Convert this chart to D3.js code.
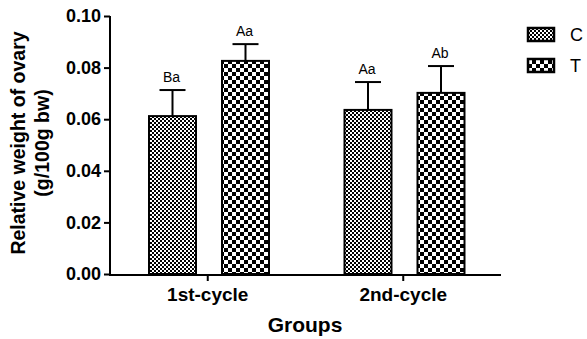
<!DOCTYPE html>
<html><head><meta charset="utf-8">
<script src="https://cdn.jsdelivr.net/npm/d3@7"></script>
<style>body{margin:0;background:#fff}svg{display:block}text{font-family:"Liberation Sans",Arial,sans-serif}</style>
</head><body><svg id="c" width="587" height="339"></svg>
<script>
const groups = ["1st-cycle", "2nd-cycle"];
const seriesNames = ["C", "T"];
const meanC = [0.0612, 0.0636];
const meanT = [0.0826, 0.0702];
const errC = [0.0101, 0.0108];
const errT = [0.0065, 0.0104];
const lettersC = ["Ba", "Aa"];
const lettersT = ["Aa", "Ab"];
const yTicks = [0, 0.02, 0.04, 0.06, 0.08, 0.10];

const svg = d3.select("#c");
const defs = svg.append("defs");
const pC = defs.append("pattern").attr("id","patC").attr("patternUnits","userSpaceOnUse").attr("width",4).attr("height",4);
pC.append("rect").attr("width",4).attr("height",4).attr("fill","#fff");
pC.append("rect").attr("width",2).attr("height",2).attr("fill","#000");
pC.append("rect").attr("x",2).attr("y",2).attr("width",2).attr("height",2).attr("fill","#000");
const pT = defs.append("pattern").attr("id","patT").attr("patternUnits","userSpaceOnUse").attr("width",8).attr("height",8);
pT.append("rect").attr("width",8).attr("height",8).attr("fill","#fff");
pT.append("rect").attr("width",4).attr("height",4).attr("fill","#000");
pT.append("rect").attr("x",4).attr("y",4).attr("width",4).attr("height",4).attr("fill","#000");
const fills = {C:"url(#patC)", T:"url(#patT)"};

const y = d3.scaleLinear().domain([0,0.1]).range([274,16]);
const x0 = d3.scaleBand().domain(groups).range([110,501]).padding(0);
const x1 = d3.scaleBand().domain(seriesNames).range([38,160]).paddingInner(24/73).paddingOuter(0);

const data = [];
groups.forEach((g,i)=>{
  data.push({g, s:"C", v:meanC[i], e:errC[i], l:lettersC[i]});
  data.push({g, s:"T", v:meanT[i], e:errT[i], l:lettersT[i]});
});

const eb = svg.append("g");
data.forEach(d=>{
  const cx = x0(d.g) + x1(d.s) + x1.bandwidth()/2;
  eb.append("line").attr("x1",cx).attr("x2",cx).attr("y1",y(d.v)).attr("y2",y(d.v+d.e)).attr("stroke","#000").attr("stroke-width",2);
  eb.append("line").attr("x1",cx-13).attr("x2",cx+13).attr("y1",y(d.v+d.e)).attr("y2",y(d.v+d.e)).attr("stroke","#000").attr("stroke-width",2);
  svg.append("text").attr("x",cx-1).attr("y",y(d.v+d.e)-8).attr("text-anchor","middle")
    .attr("font-size",14).text(d.l);
});

svg.append("g").selectAll("rect").data(data).join("rect")
  .attr("x",d=>x0(d.g)+x1(d.s)+1)
  .attr("y",d=>y(d.v))
  .attr("width",x1.bandwidth()-2)
  .attr("height",d=>y(0)-y(d.v))
  .attr("fill",d=>fills[d.s]).attr("stroke","#000").attr("stroke-width",2);

const ya = svg.append("g").attr("transform","translate(110,0)")
  .call(d3.axisLeft(y).tickValues(yTicks).tickFormat(d3.format(".2f")).tickSize(6).tickSizeOuter(0).tickPadding(3));
ya.selectAll("path,line").attr("stroke","#000").attr("stroke-width",2);
ya.select(".domain").attr("d","M0,"+y(0.1)+"V"+(y(0)+1));
ya.selectAll("text").attr("font-size",18).attr("font-weight","bold").attr("fill","#000").attr("font-family","Liberation Sans, Arial, sans-serif");

const xa = svg.append("g").attr("transform","translate(0,275)")
  .call(d3.axisBottom(x0).tickSize(6).tickSizeOuter(0).tickPadding(7));
xa.selectAll("path,line").attr("stroke","#000").attr("stroke-width",2);
xa.select(".domain").attr("d","M109,0H501");
xa.selectAll("text").attr("font-size",19).attr("font-weight","bold").attr("fill","#000").attr("font-family","Liberation Sans, Arial, sans-serif");

svg.append("text").attr("x",305).attr("y",332).attr("text-anchor","middle")
  .attr("font-size",21).attr("font-weight","bold").text("Groups");
const yt = svg.append("text").attr("transform","translate(25,143) rotate(-90)").attr("text-anchor","middle")
  .attr("font-size",19.5).attr("font-weight","bold");
yt.append("tspan").attr("x",0).attr("dy",0).text("Relative weight of ovary");
yt.append("tspan").attr("x",0).attr("dy",24).text("(g/100g bw)");

const lg = svg.append("g");
seriesNames.forEach((s,i)=>{
  lg.append("rect").attr("x",528).attr("y",28+i*31).attr("width",26).attr("height",13)
    .attr("fill",fills[s]).attr("stroke","#000").attr("stroke-width",2.5);
  lg.append("text").attr("x",570).attr("y",41+i*31).attr("font-size",18).text(s);
});
</script></body></html>
